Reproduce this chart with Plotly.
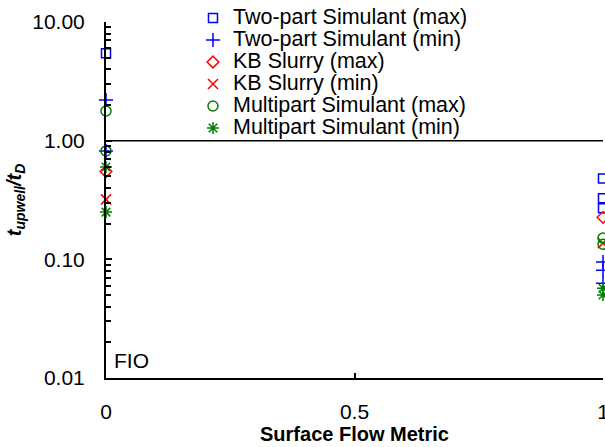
import plotly.graph_objects as go

# ---- data ----
series_names = [
    "Two-part Simulant (max)",
    "Two-part Simulant (min)",
    "KB Slurry (max)",
    "KB Slurry (min)",
    "Multipart Simulant (max)",
    "Multipart Simulant (min)",
]
two_part_max_x = [0, 1, 1, 1]
two_part_max_y = [5.45, 0.48, 0.327, 0.27]
two_part_min_x = [0, 0, 1, 1, 1]
two_part_min_y = [2.2, 0.82, 0.095, 0.081, 0.063]
kb_max_x = [0, 1]
kb_max_y = [0.55, 0.226]
kb_min_x = [0, 1]
kb_min_y = [0.32, 0.137]
multi_max_x = [0, 0, 1, 1]
multi_max_y = [1.78, 0.82, 0.151, 0.134]
multi_min_x = [0, 0, 1, 1]
multi_min_y = [0.6, 0.25, 0.057, 0.05]

ref_level = 1.0
x_ticks = [0, 0.5, 1]
x_tick_labels = ["0", "0.5", "1"]

FONT = "Arial, Liberation Sans, sans-serif"
BLUE = "#0000FF"
RED = "#FF0000"
GREEN = "#008000"

styles = [
    ("square-open", BLUE, 9),
    ("cross-thin-open", BLUE, 10),
    ("diamond-open", RED, 9),
    ("x-thin-open", RED, 10),
    ("circle-open", GREEN, 10),
    ("asterisk-open", GREEN, 10),
]
xs = [two_part_max_x, two_part_min_x, kb_max_x, kb_min_x, multi_max_x, multi_min_x]
ys = [two_part_max_y, two_part_min_y, kb_max_y, kb_min_y, multi_max_y, multi_min_y]

fig = go.Figure()
for name, x, y, (sym, col, sz) in zip(series_names, xs, ys, styles):
    fig.add_trace(go.Scatter(
        x=x, y=y, mode="markers",
        name='<span style="font-size:21.5px">' + name + "</span>",
        cliponaxis=False,
        marker=dict(symbol=sym, size=sz, color=col, line=dict(color=col, width=1.5)),
    ))

fig.add_shape(type="line", xref="x", yref="y", x0=0, x1=1, y0=ref_level, y1=ref_level,
              line=dict(color="black", width=1.5), layer="below")

fig.add_annotation(text="FIO", xref="paper", yref="paper", x=0.012, y=0.05,
                   xanchor="left", yanchor="middle", showarrow=False,
                   font=dict(family=FONT, size=21, color="black"))

fig.update_layout(
    width=605, height=447,
    margin=dict(l=106, r=2, t=20, b=69),
    paper_bgcolor="white", plot_bgcolor="white",
    font=dict(family=FONT, color="black"),
    showlegend=True,
    legend=dict(x=0.175, y=1.056, xanchor="left", yanchor="top",
                bgcolor="rgba(0,0,0,0)", font=dict(family=FONT, size=14.6, color="black"),
                itemwidth=30, tracegroupgap=0),
    xaxis=dict(range=[0, 1], tickvals=x_ticks, ticktext=x_tick_labels,
               ticks="inside", ticklen=5, tickcolor="black", tickwidth=1.5,
               showline=True, linecolor="black", linewidth=2, showgrid=False, zeroline=False,
               tickfont=dict(family=FONT, size=21, color="black"),
               ticklabelstandoff=14, ticklabeloverflow="allow", automargin=False,
               title=dict(text="<b>Surface Flow Metric</b>", font=dict(family=FONT, size=20, color="black"),
                          standoff=2)),
    yaxis=dict(type="log", range=[-2, 1], dtick=1, tickformat=".2f",
               ticks="inside", ticklen=6, tickcolor="black", tickwidth=1.5,
               minor=dict(ticks="inside", ticklen=5, dtick="D1", tickcolor="black", tickwidth=1.5, showgrid=False),
               showline=True, linecolor="black", linewidth=2, showgrid=False, zeroline=False,
               tickfont=dict(family=FONT, size=21, color="black"),
               ticklabelstandoff=15, automargin=False,
               title=dict(text="<b><i>t</i><sub><i>upwell</i></sub><i>/t</i><sub><i>D</i></sub></b>",
                          font=dict(family=FONT, size=20, color="black"), standoff=5)),
)

fig.write_html("out.html")
